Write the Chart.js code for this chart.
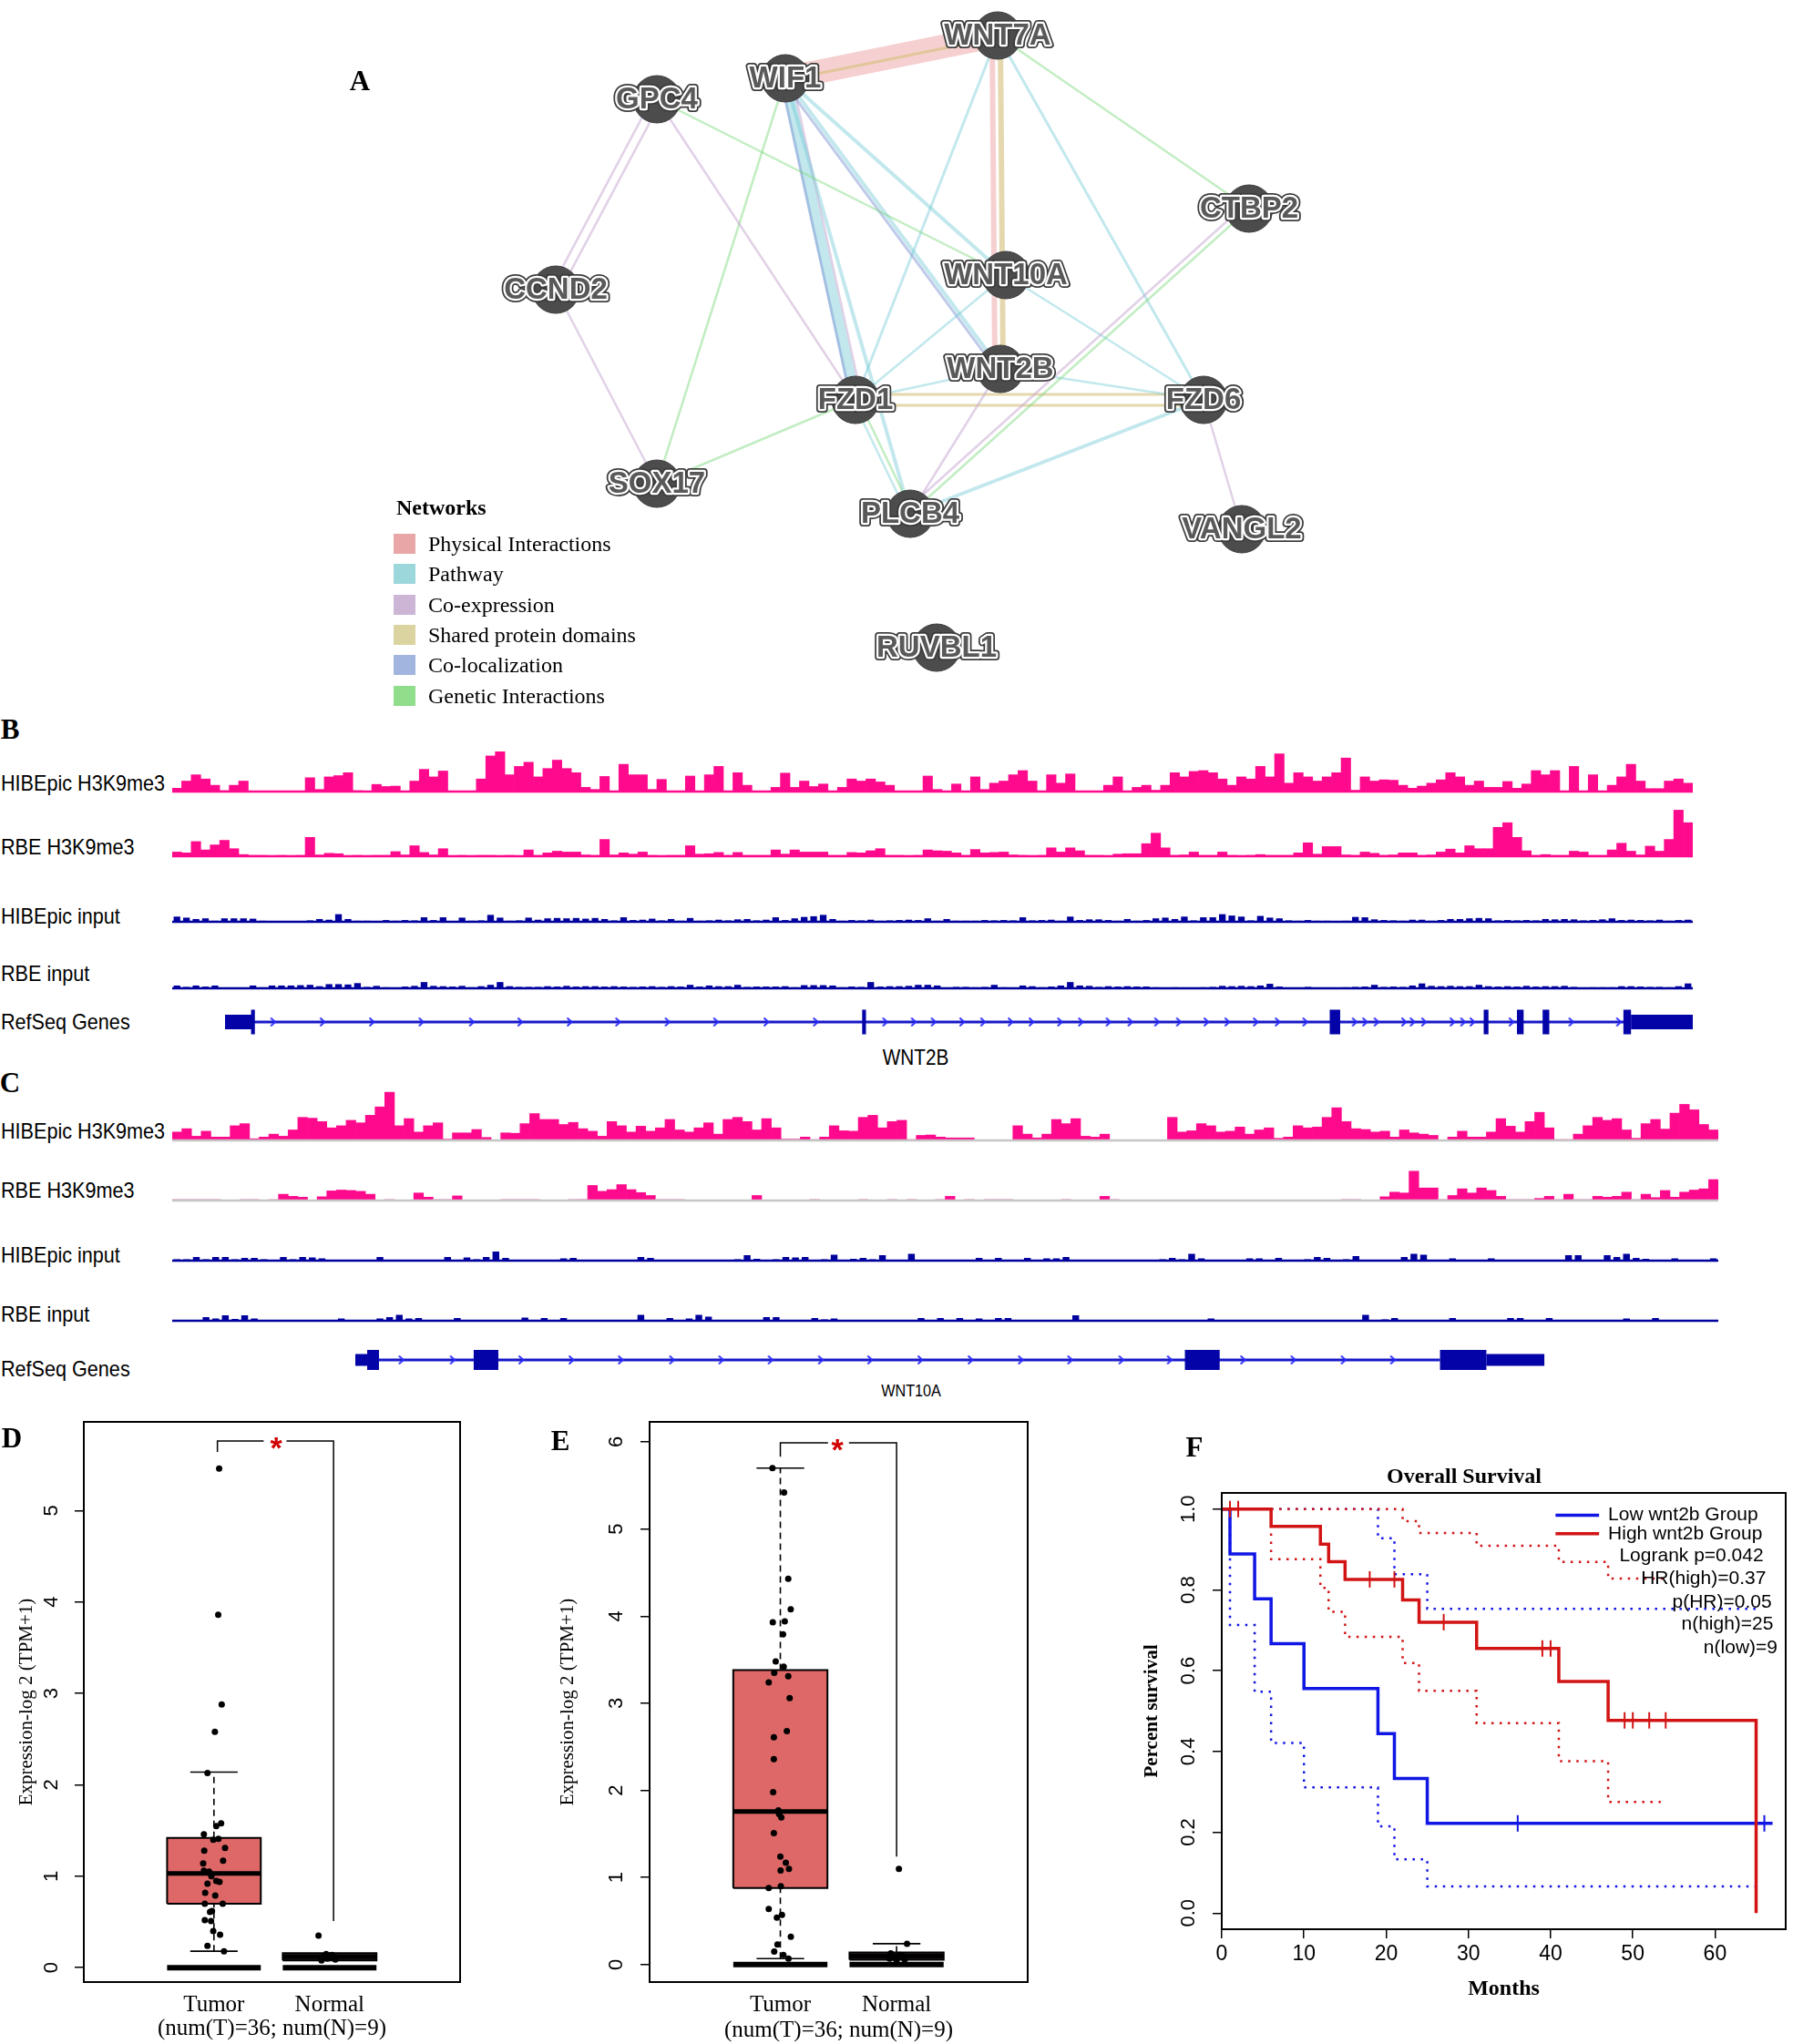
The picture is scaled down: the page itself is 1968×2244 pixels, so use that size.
<!DOCTYPE html>
<html>
<head>
<meta charset="utf-8">
<script src="https://cdn.jsdelivr.net/npm/chart.js@4.4.1/dist/chart.umd.min.js"></script>
<style>
body { margin: 0; background: #fff; }
#page { position: relative; width: 1968px; height: 2244px; overflow: hidden; background: #fff; }
#page canvas { position: absolute; }
.lbl { position: absolute; white-space: nowrap; line-height: 1; color: #000; }
</style>
</head>
<body>
<div id="page"></div>
<script>
// ---------------- data ----------------

// A: network (node layout)
var netNodes = ['WNT7A', 'WIF1', 'GPC4', 'CTBP2', 'CCND2', 'WNT10A', 'WNT2B', 'FZD1', 'FZD6', 'SOX17', 'PLCB4', 'VANGL2', 'RUVBL1'];
var netNodeX = [1095, 862, 721, 1371, 610, 1104, 1098, 939, 1321, 721, 999, 1363, 1028];
var netNodeY = [39, 86, 109, 229, 318, 302, 405, 439, 439, 531, 564, 581, 711];
// [from, to, type, weight, parallel offset]
var netEdges = [
  ['WIF1', 'WNT7A', 'P', 26, 0], ['WIF1', 'WNT7A', 'S', 3, 2],
  ['WNT7A', 'WNT2B', 'P', 6, 6], ['WNT7A', 'WNT2B', 'S', 6, -3],
  ['WNT7A', 'FZD1', 'W', 3, 0], ['WNT7A', 'FZD6', 'W', 3, 0], ['WNT7A', 'CTBP2', 'G', 2.5, 0],
  ['WIF1', 'FZD1', 'W', 12, 0], ['WIF1', 'FZD1', 'L', 3, 5], ['WIF1', 'FZD1', 'C', 2.5, -7],
  ['WIF1', 'PLCB4', 'W', 4, 0], ['WIF1', 'WNT2B', 'W', 4, 0], ['WIF1', 'WNT2B', 'L', 3, 4],
  ['WIF1', 'WNT10A', 'W', 4, 0], ['WIF1', 'SOX17', 'G', 2.5, 0],
  ['GPC4', 'CCND2', 'C', 2.5, 5], ['GPC4', 'CCND2', 'C', 2.5, -5],
  ['GPC4', 'FZD1', 'C', 2.5, 0], ['GPC4', 'WNT10A', 'G', 2.5, 0], ['CCND2', 'SOX17', 'C', 2.5, 0],
  ['SOX17', 'FZD1', 'G', 2.5, 0], ['FZD1', 'WNT10A', 'W', 2.5, 0], ['FZD1', 'WNT2B', 'W', 2.5, 0],
  ['FZD1', 'FZD6', 'S', 3, 6], ['FZD1', 'FZD6', 'S', 3, -6],
  ['WNT2B', 'FZD6', 'W', 2.5, 0], ['WNT10A', 'FZD6', 'W', 2.5, 0],
  ['FZD1', 'PLCB4', 'G', 2.5, -3], ['FZD1', 'PLCB4', 'W', 2.5, 3], ['WNT2B', 'PLCB4', 'C', 2.5, 0],
  ['CTBP2', 'PLCB4', 'G', 2.5, 0], ['CTBP2', 'PLCB4', 'C', 2.5, 6],
  ['FZD6', 'PLCB4', 'W', 4, 0], ['FZD6', 'VANGL2', 'C', 2.5, 0]
];
var netTypeKeys = ['P', 'W', 'C', 'S', 'L', 'G'];
var netTypeNames = ['Physical Interactions', 'Pathway', 'Co-expression', 'Shared protein domains', 'Co-localization', 'Genetic Interactions'];

// B / C: track names and binned signal (160 bins per track)
var trackNames = ['HIBEpic H3K9me3', 'RBE H3K9me3', 'HIBEpic input', 'RBE input', 'RefSeq Genes'];

var bHibH3 = [0.8,2.5,4,3,1.5,0.2,1.5,2.5,0,0, 0,0,0,0,3.3,0.5,3.5,3.8,4.5,0.2, 0,1.7,1.2,1.3,0,2.5,5.3,3.5,4.9,0,
  0,0,3,8.5,9.5,4,6,7,3.5,5.5, 7.5,5.5,4.5,1,0.5,3.6,0,6.5,4,4, 0.5,2.9,0,0,3.7,0,4,6,0,4.5,
  1.5,0,0,1,4.4,1,2.5,1.2,1.8,0, 1,3,2.5,3,2.3,1.5,0,0,0,3.7].concat(
  [0.5,0,1.8,0,3.5,0.5,2,2.5,4,5, 2.5,0,4,2,4.2,0,0,0,1.5,3.5, 0,1,1.5,0.3,1.5,4.5,3.5,4.8,5,4.5,
  3,1.5,3.5,3,6,3.5,9,2,4.5,3.5, 2.5,3.5,4.5,8,0.3,3.5,2.5,2.8,2.7,1.5, 0.8,1.3,2,2.8,4.5,3.5,1.5,2.5,1,1,
  2.4,0.8,1.8,5,4,5,0,6,0,4, 0,1.5,3.5,6.5,2.5,0.7,0.7,2.5,3,2]);

var bRbeH3 = [1,0.8,3.5,1.5,2.7,3.8,1.8,0.4,0.2,0.2, 0.1,0.2,0.1,0.2,4.5,0.3,0.7,0.6,0.1,0.2, 0.1,0.2,0.2,1.1,0.3,2.5,0.9,0.3,1.8,0.1,
  0.2,0.1,0.2,0.2,0.1,0.2,0.1,1.5,0.2,0.8, 1.2,1,1,0.3,0.2,4,0.3,0.8,0.5,1, 0.2,0.1,0.2,0.2,2.5,0.5,0.6,0.9,0.2,0.9,
  0.2,0.2,0.2,1.5,0.5,1.5,1,1,1,0.2, 0.2,0.9,0.8,1.3,1.8,0.2,0.2,0.1,0.2,1.5].concat(
  [1.3,1.2,0.8,0.2,1.6,0.8,0.9,1,0.3,0.2, 0.1,0.2,2,1,2,1.3,0.2,0.2,0.1,0.5, 0.6,0.6,3,5.5,2,0.2,0.3,1,0.2,0.2,
  1,0.2,0.1,0.2,0.4,0.2,0.2,0.2,0.8,3.2, 0.5,2.3,2.3,0.3,0.2,1,0.7,0.2,0.3,0.8, 0.8,0.2,0.3,1,1.7,0.8,2.5,1.8,1.8,6.9,
  8,4.5,1.3,0.2,0.4,0.2,0.2,1.2,1,0.2, 0.2,1.5,3.1,1.2,0.3,2.4,1.2,4,11,8]);

var bHibIn = [1.5,1.2,0.8,1,0.3,1,1,1,0.9,0.3, 0.1,0.1,0.1,0.2,0.4,0.8,0.6,2.2,0.8,0.3, 0.3,0.2,0.5,0.3,0.5,0.4,1.3,0.5,1.3,0.2,
  1.2,0.3,0.4,2,1.2,0.3,0.4,1.2,0.6,1, 1.1,1,1.1,0.9,1.1,0.8,0.4,1.3,0.5,0.6, 0.9,0.4,0.8,0.3,1.1,0.3,0.4,0.6,0.4,0.7,
  0.8,0.4,0.6,1.3,0.5,1,1.4,1.6,2,0.8, 0.3,0.5,0.4,0.6,0.3,0.4,0.5,0.6].concat(
  [0.5,1,0.3,0.8,0.3,0.3,0.3,0.5,0.4,0.5, 0.4,1.3,0.4,0.5,0.6,0.3,1.5,0.5,0.7,0.7, 0.5,0.3,0.8,0.3,0.5,1,1.2,0.8,1.5,0.4,
  1.3,1.3,2.2,1.8,1.5,0.4,1.7,1.2,1,0.4, 0.3,0.5,0.3,0.3,0.2,0.3,1.4,1.3,0.7,0.5, 0.4,0.3,0.6,0.6,0.3,0.5,0.8,0.8,1,1.1,
  1,0.4,0.5,0.4,0.5,0.4,0.8,0.7,0.8,0.7, 0.4,0.5,0.7,1,0.5,0.6,0.5,0.4,0.6,0.3, 0.5,0.6]);

var bRbeIn = [0.8,0.4,0.8,0.5,0.8,0.1,0.1,0.2,0.8,0.3, 0.8,0.8,0.8,0.9,1,0.6,1.2,1.2,1.1,1.5, 0.4,0.7,0.3,0.2,0.5,0.7,1.8,0.7,0.6,0.5,
  0.7,0.3,0.6,1,1.8,0.6,0.4,0.4,0.4,0.6, 0.5,0.7,0.5,0.6,0.6,0.5,0.6,0.5,0.4,0.5, 0.6,0.4,0.6,0.5,1,0.5,0.8,0.6,0.6,1,
  0.4,0.5,0.5,0.5,0.6,0.3,0.9,0.9,0.9,0.8, 0.3,0.5,0.4,1.8,0.5,0.6,0.6,0.7].concat(
  [1,1,0.8,0.2,0.4,0.4,0.3,0.4,1,0.3, 0.2,0.8,0.6,0.3,0.5,0.8,1.8,0.8,0.7,0.4, 0.6,0.5,0.6,0.5,0.5,0.3,0.2,0.3,0.2,0.2,
  0.3,0.4,0.7,0.6,0.7,0.6,0.8,1.3,0.5,0.2, 0.2,0.4,0.2,0.2,0.2,0.3,0.4,0.5,1,0.4, 0.5,0.4,0.8,1.4,0.7,0.6,0.7,0.6,0.6,1,
  0.6,0.5,0.6,0.5,0.7,0.5,0.6,0.6,0.7,0.4, 0.2,0.3,0.3,0.3,0.6,0.6,0.5,0.4,0.4,0.3, 0.6,1.4]);

var cHibH3 = [2,2.8,1,2.2,0.8,0.8,3.5,4,0.4,0.8, 1.5,1,2.5,5.5,5.3,4.5,3,3.5,4.8,4.2, 6,8,11.5,3.5,5.2,2,3.5,4.2,0.3,1.8,
  1.8,2.6,0.7,0,1.8,1.7,4,6.4,5,5, 3.8,4.3,2.8,2.2,1,4.5,3.5,2,3.4,2.2, 3,5,2.5,2,3,4.2,1.5,5,5.5,4.5,
  2.5,5.2,3,0.3,0.3,0.8,0.2,0.8,3.5,2.3, 2.2,5.5,6,3,4.5,4.8,0.2,1.2,1.3,0.8].concat(
  [0.6,0.6,0.6,0,0,0,0,3.5,1.5,0.6, 1.5,5,4,5.2,1,0.8,1.5,0,0,0, 0,0,0,5.5,2,2.3,4,3.5,2,2.2,
  3.2,1.5,2.5,3,0.5,0.8,3.5,3,3.2,5.5, 7.8,4.5,2.8,2.6,2,2.2,0.8,2.5,1.8,1.5, 1.2,0,0.8,2.2,0.8,0.8,2,5.2,3.4,2,
  4.5,6.7,3,0.2,0.2,1.5,3.5,5.5,4.8,5.2, 2.5,0.5,4,5,2.7,6.5,8.6,7.3,3.8,2.5]);

var cRbeH3 = [0.3,0.3,0.3,0.3,0.3,0,0,0.3,0.3,0, 0.3,1.5,1,0.8,0,0.9,2.3,2.5,2.4,2.2, 1.5,0,0.3,0,0,1.8,0.8,0.3,0.3,1.1,
  0,0,0,0,0.3,0.3,0.3,0.3,0,0, 0,0.3,0.35,3.6,2.2,2.6,3.8,2.6,1.9,1.2, 0.3,0.3,0.3,0,0,0,0,0,0,0,
  1.2,0,0,0,0,0,0.3,0,0,0, 0,0.3,0,0,0.3,0,0.3,0,0,0.3].concat(
  [1,0,0.3,0,0.3,0.3,0.3,0,0,0, 0,0,0.3,0,0,0,1,0.3,0,0, 0,0,0,0,0,0,0,0,0,0,
  0,0,0,0,0,0,0,0,0,0, 0,0.3,0.3,0,0,0.9,2,1.8,7,3, 3,0.3,1.2,2.8,1.8,3,2.4,1,0.3,0.3,
  0.3,0.5,1,0.3,1.5,0.3,0.3,1,0.8,1, 2,0.3,1.5,0.7,2.4,0.8,2,2.5,2.8,5]);

var cHibIn = [0.3,0.3,0.8,0.3,0.8,0.8,0.3,0.6,0.6,0.3, 0.1,0.8,0.3,0.8,0.7,0.5,0.1,0.2,0.2,0, 0.1,0.8,0.2,0.2,0.2,0,0.1,0.2,0.8,0.2,
  0.7,0.3,0.8,2,0.6,0.2,0,0.1,0.2,0.2, 0.5,0.6,0.2,0.2,0,0,0.1,0.2,0.8,0.6, 0.1,0,0.1,0.2,0.1,0.2,0.1,0.1,0.3,1.2,
  0.4,0.1,0.3,0.8,0.7,0.8,0.1,0.3,1.3,0.2, 0.4,0.6,0.3,1.2,0.1,0.2,1.5].concat(
  [0.2,0.2,0.2,0.2,0.2,0,0.6,0.1,0.6,0.2, 0.1,0.6,0.2,0.5,0.5,0.8,0.1,0.2,0.2,0.2, 0.2,0.2,0,0,0.2,0.3,0.6,0.3,1.5,0.5,
  0.1,0,0.1,0.2,0.5,0.5,0.1,0.6,0.2,0.2, 0.3,0.8,0.6,0.2,0.3,1,0.2,0.2,0.2,0.1, 0.8,1.5,1.3,0.1,0.1,0.5,0.1,0.2,0.1,0.5,
  0.1,0.2,0.2,0.1,0.2,0.2,0.1,1.2,1.2,0.2, 0.2,1.2,0.8,1.5,0.6,0.4,0.2,0.1,0.5,0.2, 0.1,0.1,0.5]);

var cRbeIn = [0.1,0.1,0.1,0.8,0.5,1.2,0.4,1.2,0.5,0.1, 0,0,0,0.1,0,0.2,0.1,0.5,0,0, 0.1,0.5,0.8,1.3,0.5,0.6,0.1,0.1,0.1,0.6,
  0.1,0,0.2,0.1,0.1,0.1,0.7,0.1,0.6,0.2, 0.6,0.1,0.2,0.1,0.1,0.2,0.1,0.2,1.3,0.2, 0.2,0.6,0.1,0.5,1.3,0.9,0.1,0.1,0.1,0.1,
  0.1,0.8,0.8,0.1,0.2,0.1,0.6,0.3,0.5,0.1, 0.1,0.2,0.2,0.1,0,0,0].concat(
  [0.6,0.2,0.6,0.1,0.6,0.1,0.5,0.1,0.6,0.6, 0,0,0,0,0,0,1.2,0.1,0.1,0.1, 0.1,0,0,0,0.1,0,0,0.1,0,0.1,
  0.5,0.1,0,0.1,0.1,0.1,0.1,0.1,0.1,0.1, 0.1,0,0.1,0.1,0,0.2,1.3,0.2,0.3,0.6, 0,0.2,0.2,0,0,0.6,0,0.1,0,0,
  0,0.6,0.6,0,0,0.6,0.1,0.1,0,0, 0,0,0,0.5,0,0,0.6,0.1,0.1,0, 0,0,0]);

// gene models, in bin units
var bGeneName = 'WNT2B';
var bUtr = [[5.56, 8.44], [153.5, 160]];
var bExon = [[8.3, 8.7], [72.6, 73.0], [121.8, 122.9], [138.0, 138.5], [141.5, 142.2], [144.2, 144.9], [152.7, 153.5]];
var bIntron = [8.44, 153.5];
var bArrows = [10.6, 15.8, 21.0, 26.2, 31.5, 36.6, 41.8, 46.9, 52.1, 57.2, 62.5, 67.7, 75.0, 78.0, 80.1, 83.1, 85.3, 88.2,
  90.4, 93.4, 95.6, 98.5, 100.8, 103.6, 105.9, 108.8, 111.0, 114.0, 116.3, 119.2, 124.4, 125.5, 126.7, 129.6, 130.5,
  131.7, 134.7, 135.8, 136.8, 140.9, 147.2, 152.2];
var cGeneName = 'WNT10A';
var cUtr = [[18.95, 20.18], [136.0, 142.0]];
var cExon = [[20.18, 21.4], [31.2, 33.75], [104.8, 108.4], [131.2, 136.0]];
var cIntron = [21.4, 131.2];
var cArrows = [23.7, 29.0, 36.1, 41.3, 46.4, 51.7, 56.8, 61.9, 67.1, 72.2, 77.4, 82.6, 87.8, 92.9, 98.2, 103.2, 110.8, 116.0, 121.2, 126.3];

// D / E: boxplots. stats = [low whisker, q1, median, q3, high whisker]
var boxGroups = ['Tumor', 'Normal'];
var boxSubtitle = '(num(T)=36; num(N)=9)';
var boxYTitle = 'Expression-log 2 (TPM+1)';
var dTicks = [0, 1, 2, 3, 4, 5];
var dStats = [[0.18, 0.70, 1.03, 1.42, 2.14], [0.08, 0.08, 0.12, 0.16, 0.16]];
var dTumorY = [5.46,3.86,2.88,2.58,2.13,1.58,1.55,1.46,1.41,1.40,1.31,1.28,1.17,1.14,1.06,1.05,1.02,1.00,0.95,0.94,0.92,0.82,0.79,0.70,0.70,0.62,0.61,0.52,0.51,0.40,0.36,0.24,0.18];
var dTumorJit = [0.045,0.037,0.067,0.008,-0.056,0.062,0.02,-0.087,0.039,-0.006,0.096,-0.084,0.079,-0.093,-0.087,-0.042,-0.025,-0.022,0.02,0.048,-0.056,-0.076,0.011,-0.079,0.076,-0.017,-0.034,-0.079,-0.025,-0.006,0.053,-0.056,0.087];
var dNormalY = [0.35, 0.15, 0.14, 0.13, 0.12, 0.11, 0.10, 0.09, 0.08];
var dNormalJit = [-0.096, -0.03, 0.02, -0.05, 0.0, 0.03, -0.02, 0.05, -0.07];
var dBracket = [1.03, 2.034, 5.64, 5.76, 0.51]; // x left, x right, left foot, top, right foot
var dBracketGap = [1.43, 1.627];

var eTicks = [0, 1, 2, 3, 4, 5, 6];
var eStats = [[0.07, 0.88, 1.757, 3.38, 5.70], [0.056, 0.056, 0.097, 0.14, 0.24]];
var eTumorY = [5.70,5.42,4.43,4.08,3.93,3.94,3.79,3.48,3.42,3.35,3.31,3.24,3.06,2.68,2.61,2.36,1.98,1.77,1.73,1.69,1.51,1.24,1.17,1.10,1.08,0.90,0.88,0.64,0.57,0.54,0.32,0.23,0.15,0.11,0.07];
var eTumorJit = [-0.068,0.032,0.068,0.089,-0.065,0.038,0.023,-0.04,0.029,-0.053,0.068,-0.1,0.08,0.056,-0.056,-0.056,-0.062,-0.017,-0.011,0.008,-0.056,0,0.047,0.074,0.002,0.004,-0.1,-0.1,0.014,-0.03,0.09,-0.025,-0.053,0.026,0.07];
var eNormalY = [1.10, 0.24, 0.13, 0.11, 0.10, 0.08, 0.07, 0.06, 0.05];
var eNormalJit = [0.02, 0.09, -0.05, 0.03, 0.05, -0.02, -0.06, 0.07, 0.0];
var eBracket = [1.0, 2.0, 5.83, 5.99, 1.24];
var eBracketGap = [1.41, 1.59];

// F: Kaplan-Meier
var kmXTicks = [0, 10, 20, 30, 40, 50, 60];
var kmYTicks = [0, 0.2, 0.4, 0.6, 0.8, 1.0];
var kmLowT = [0, 1, 4, 6, 10, 19, 21, 25, 67];
var kmLowS = [1, 0.889, 0.778, 0.667, 0.556, 0.444, 0.333, 0.222, 0.222];
var kmHighT = [0, 6, 12, 13, 15, 22, 24, 31, 41, 47, 65];
var kmHighS = [1, 0.957, 0.913, 0.870, 0.826, 0.775, 0.720, 0.655, 0.573, 0.477, 0];
var kmLowCens = [36, 66];
var kmHighCens = [1, 2, 18, 21, 27, 39, 40, 49, 50, 52, 54];
var ciLowUpT = [0, 19, 21, 25, 65.5];
var ciLowUpS = [1, 0.928, 0.839, 0.753, 0.753];
var ciLowLoT = [0, 1, 4, 6, 10, 19, 21, 25, 65.5];
var ciLowLoS = [1, 0.713, 0.548, 0.421, 0.311, 0.215, 0.133, 0.066, 0.066];
var ciHighUpT = [0, 22, 24, 31, 41, 47, 54];
var ciHighUpS = [1, 0.97, 0.941, 0.909, 0.869, 0.828, 0.828];
var ciHighLoT = [0, 6, 12, 13, 15, 22, 24, 31, 41, 47, 53.4];
var ciHighLoS = [1, 0.876, 0.805, 0.746, 0.684, 0.619, 0.55, 0.47, 0.376, 0.275, 0.275];
var kmGroups = ['Low wnt2b Group', 'High wnt2b Group'];
var kmStatsText = ['Logrank p=0.042', 'HR(high)=0.37', 'p(HR)=0.05', 'n(high)=25', 'n(low)=9'];

// ---------------- styles ----------------
var SERIF = '"Liberation Serif", "Times New Roman", serif';
var SANS = '"Liberation Sans", Arial, sans-serif';
var PINK = '#ff0a8c', PALE_PINK = '#e9a3cd', GRAY_BASE = '#c6c6c6', NAVY = '#00009c';
var EXON = '#0303a8', INTRON = '#1818c8', ARROW = '#2b2bff';
var BLUE = '#1016e4', RED = '#d21414', BOX_FILL = ['#de6767', '#3a2a2a'];
var netColors = { P: 'rgba(236,150,150,0.45)', W: 'rgba(110,200,212,0.42)', C: 'rgba(196,164,208,0.5)',
  S: 'rgba(212,190,120,0.6)', L: 'rgba(128,150,214,0.5)', G: 'rgba(120,214,120,0.45)' };
var netSwatch = ['#e9a6a6', '#9cd7dc', '#cdb5d6', '#dcd4a0', '#a2b5de', '#90dd8b'];

Chart.defaults.font.family = SANS;
Chart.defaults.color = '#000';
Chart.defaults.layout.autoPadding = false;

var page = document.getElementById('page');

function makeCanvas(x, y, w, h) {
  var c = document.createElement('canvas');
  c.width = w; c.height = h;
  c.style.left = x + 'px'; c.style.top = y + 'px';
  c.style.width = w + 'px'; c.style.height = h + 'px';
  page.appendChild(c);
  return c;
}

function addText(txt, x, y, css, center, extra) {
  var d = document.createElement('div');
  d.className = 'lbl';
  d.textContent = txt;
  d.style.cssText += css;
  d.style.left = x + 'px';
  d.style.top = y + 'px';
  d.style.transformOrigin = center ? '50% 50%' : '0 50%';
  d.style.transform = (center ? 'translate(-50%,-50%)' : 'translateY(-50%)') + (extra || '');
  page.appendChild(d);
  return d;
}

// Chart.js paints dataset 0 last; make later datasets paint on top instead
function paintInOrder(ds) {
  ds.forEach(function (d, i) { d.order = ds.length - i; });
  return ds;
}

function baseOpts() {
  return { responsive: false, animation: false, devicePixelRatio: 1, events: [],
    plugins: { legend: { display: false }, tooltip: { enabled: false } } };
}

// ---------------- plugins ----------------
function baselinePlugin(color, width) {
  return { id: 'baseline', afterDatasetsDraw: function (chart) {
    var a = chart.chartArea, ctx = chart.ctx;
    ctx.save(); ctx.fillStyle = color;
    ctx.fillRect(a.left, a.bottom - width / 2, a.right - a.left, width);
    ctx.restore();
  } };
}

var framePlugin = { id: 'frame', afterDraw: function (chart) {
  var a = chart.chartArea, ctx = chart.ctx;
  ctx.save(); ctx.strokeStyle = '#000'; ctx.lineWidth = 2;
  ctx.strokeRect(a.left, a.top, a.right - a.left, a.bottom - a.top);
  ctx.restore();
} };

function rotTicksPlugin(offset, font, fmt) {
  return { id: 'rotTicks', afterDraw: function (chart) {
    var s = chart.scales.y, ctx = chart.ctx;
    ctx.save(); ctx.font = font; ctx.fillStyle = '#000';
    ctx.textAlign = 'center'; ctx.textBaseline = 'middle';
    s.ticks.forEach(function (t) {
      ctx.save();
      ctx.translate(chart.chartArea.left - offset, s.getPixelForValue(t.value));
      ctx.rotate(-Math.PI / 2);
      ctx.fillText(fmt ? fmt(t.value) : String(t.value), 0, 0);
      ctx.restore();
    });
    ctx.restore();
  } };
}

function notesPlugin(items, segs) {
  return { id: 'notes', afterDatasetsDraw: function (chart) {
    var ctx = chart.ctx, xs = chart.scales.x, ys = chart.scales.y;
    ctx.save();
    (segs || []).forEach(function (s) {
      ctx.strokeStyle = s.color; ctx.lineWidth = s.width;
      ctx.beginPath();
      ctx.moveTo(xs.getPixelForValue(s.x1), ys.getPixelForValue(s.y));
      ctx.lineTo(xs.getPixelForValue(s.x2), ys.getPixelForValue(s.y));
      ctx.stroke();
    });
    items.forEach(function (it) {
      ctx.font = it.font; ctx.fillStyle = it.color || '#000';
      ctx.textAlign = it.align || 'left'; ctx.textBaseline = it.baseline || 'middle';
      var x = it.px != null ? it.px : xs.getPixelForValue(it.x);
      var y = it.py != null ? it.py : ys.getPixelForValue(it.y);
      ctx.fillText(it.t, x, y + (it.dy || 0));
    });
    ctx.restore();
  } };
}

// ---------------- A: network ----------------
(function () {
  var c = makeCanvas(370, 0, 1090, 800);
  function node(name) { var i = netNodes.indexOf(name); return [netNodeX[i], netNodeY[i]]; }
  var ds = netEdges.map(function (e) {
    var a = node(e[0]), b = node(e[1]);
    var dx = b[0] - a[0], dy = b[1] - a[1], len = Math.sqrt(dx * dx + dy * dy);
    var ox = -dy / len * e[4], oy = dx / len * e[4];
    return { data: [{ x: a[0] + ox, y: a[1] + oy }, { x: b[0] + ox, y: b[1] + oy }], showLine: true,
      borderColor: netColors[e[2]], borderWidth: e[3], pointRadius: 0, borderCapStyle: 'butt' };
  });
  ds.push({ data: netNodes.map(function (n, i) { return { x: netNodeX[i], y: netNodeY[i] }; }),
    pointRadius: 26, pointBackgroundColor: '#4c4c4c', pointBorderColor: '#3c3c3c', pointBorderWidth: 1 });
  var labels = { id: 'nodeLabels', afterDatasetsDraw: function (chart) {
    var ctx = chart.ctx, xs = chart.scales.x, ys = chart.scales.y;
    ctx.save();
    ctx.font = 'bold 33px ' + SANS; ctx.textAlign = 'center'; ctx.textBaseline = 'middle'; ctx.lineJoin = 'round';
    netNodes.forEach(function (n, i) {
      var x = xs.getPixelForValue(netNodeX[i]), y = ys.getPixelForValue(netNodeY[i]) + 1;
      ctx.lineWidth = 8; ctx.strokeStyle = '#3a3a3a'; ctx.strokeText(n, x, y);
      ctx.lineWidth = 4.5; ctx.strokeStyle = '#ffffff'; ctx.strokeText(n, x, y);
      ctx.fillStyle = '#595959'; ctx.fillText(n, x, y);
    });
    ctx.restore();
  } };
  var o = baseOpts();
  o.layout = { padding: 0, autoPadding: false };
  o.scales = { x: { type: 'linear', display: false, min: 370, max: 1460 },
               y: { type: 'linear', display: false, min: 0, max: 800, reverse: true } };
  new Chart(c, { type: 'scatter', data: { datasets: paintInOrder(ds) }, options: o, plugins: [labels] });

  addText('Networks', 435, 557, 'font:bold 24px ' + SERIF + ';');
  var ys = [597, 630, 664, 697, 730, 764];
  netTypeNames.forEach(function (n, i) {
    var sw = document.createElement('div');
    sw.style.cssText = 'position:absolute;left:432px;top:' + (ys[i] - 11) + 'px;width:24px;height:22px;background:' + netSwatch[i] + ';';
    page.appendChild(sw);
    addText(n, 470, ys[i], 'font:24px ' + SERIF + ';');
  });
})();

// ---------------- B / C: tracks ----------------
function trackChart(x, baseline, w, h, values, unit, color, baseColor, pale, barPct) {
  var c = makeCanvas(x, baseline - h, w, h + 3);
  var o = baseOpts();
  o.layout = { padding: { top: 0, bottom: 3, left: 0, right: 0 }, autoPadding: false };
  o.scales = { x: { display: false }, y: { display: false, min: 0, max: h / unit } };
  new Chart(c, {
    type: 'bar',
    data: { labels: values.map(function (v, i) { return i; }),
      datasets: [{ data: values, borderWidth: 0, categoryPercentage: 1, barPercentage: barPct || 1,
        backgroundColor: pale ? function (ctx) { return ctx.raw <= 0.35 ? pale : color; } : color }] },
    options: o,
    plugins: [baselinePlugin(baseColor, 2.5)]
  });
}

function chevron(color) {
  var c = document.createElement('canvas');
  c.width = 8; c.height = 12;
  var g = c.getContext('2d');
  g.strokeStyle = color; g.lineWidth = 1.8;
  g.beginPath(); g.moveTo(1.5, 1.5); g.lineTo(6.5, 6); g.lineTo(1.5, 10.5); g.stroke();
  return c;
}

function geneChart(x, cy, w, h, utr, exon, intron, arrows, exonH, utrH) {
  var c = makeCanvas(x, cy - h / 2, w, h);
  function segs(list) {
    var d = [];
    list.forEach(function (s) { d.push({ x: s[0], y: 0 }, { x: s[1], y: 0 }, { x: s[1], y: null }); });
    return d;
  }
  var o = baseOpts();
  o.layout = { padding: 0, autoPadding: false };
  o.scales = { x: { type: 'linear', display: false, min: 0, max: 160 }, y: { type: 'linear', display: false, min: -1, max: 1 } };
  new Chart(c, { type: 'scatter', data: { datasets: paintInOrder([
    { data: [{ x: intron[0], y: 0 }, { x: intron[1], y: 0 }], showLine: true, borderColor: INTRON, borderWidth: 3, pointRadius: 0 },
    { data: arrows.map(function (a) { return { x: a, y: 0 }; }), pointStyle: chevron(ARROW), pointRadius: 5 },
    { data: segs(utr), showLine: true, borderColor: EXON, borderWidth: utrH, borderCapStyle: 'butt', pointRadius: 0 },
    { data: segs(exon), showLine: true, borderColor: EXON, borderWidth: exonH, borderCapStyle: 'butt', pointRadius: 0 }
  ]) }, options: o });
}

var UNIT = 4.6;
trackChart(189, 869, 1669, 50, bHibH3, UNIT, PINK, PINK);
trackChart(189, 940, 1669, 62, bRbeH3, UNIT, PINK, PINK);
trackChart(189, 1012, 1669, 20, bHibIn, 3.8, NAVY, NAVY, null, 0.7);
trackChart(189, 1085, 1669, 20, bRbeIn, 3.8, NAVY, NAVY, null, 0.7);
geneChart(189, 1122, 1669, 44, bUtr, bExon, bIntron, bArrows, 27, 16);

trackChart(189, 1252, 1697, 56, cHibH3, UNIT, PINK, GRAY_BASE);
trackChart(189, 1318, 1697, 40, cRbeH3, UNIT, PINK, GRAY_BASE, PALE_PINK);
trackChart(189, 1384, 1697, 20, cHibIn, 5, NAVY, NAVY, null, 0.7);
trackChart(189, 1450, 1697, 20, cRbeIn, 5, NAVY, NAVY, null, 0.7);
geneChart(189, 1493, 1697, 40, cUtr, cExon, cIntron, cArrows, 22, 13);

var trkCss = 'font:24px ' + SANS + ';';
[860, 930, 1006, 1069, 1122].forEach(function (y, i) { addText(trackNames[i], 1, y, trkCss, false, ' scaleX(0.9)'); });
[1242, 1307, 1378, 1443, 1503].forEach(function (y, i) { addText(trackNames[i], 1, y, trkCss, false, ' scaleX(0.9)'); });
addText(bGeneName, 1005, 1161, 'font:23px ' + SANS + ';', true, ' scaleX(0.9)');
addText(cGeneName, 1000, 1527, 'font:18px ' + SANS + ';', true, ' scaleX(0.9)');

// ---------------- D / E: boxplots ----------------
var BOX_HW = 0.405, CAP_HW = 0.205;
function boxPanel(p) {
  var c = makeCanvas(p.left, p.top, p.width, p.height);
  var ds = [];
  var ptsY = [p.tumorY, p.normalY], ptsJ = [p.tumorJit, p.normalJit];
  p.stats.forEach(function (s, g) {
    var cx = g + 1;
    var line = function (pts, w, dash) {
      ds.push({ data: pts, borderColor: '#000', borderWidth: w, borderDash: dash || [], pointRadius: 0, borderCapStyle: 'butt' });
    };
    if (s[4] > s[3]) {
      line([{ x: cx, y: s[3] }, { x: cx, y: s[4] }], 1.6, [7, 5]);
      line([{ x: cx - CAP_HW, y: s[4] }, { x: cx + CAP_HW, y: s[4] }], 1.6);
    }
    if (s[0] < s[1]) {
      line([{ x: cx, y: s[0] }, { x: cx, y: s[1] }], 1.6, [7, 5]);
      line([{ x: cx - CAP_HW, y: s[0] }, { x: cx + CAP_HW, y: s[0] }], 1.6);
    }
    ds.push({ data: [{ x: cx - BOX_HW, y: s[1] }, { x: cx + BOX_HW, y: s[1] }, { x: cx + BOX_HW, y: s[3] },
      { x: cx - BOX_HW, y: s[3] }, { x: cx - BOX_HW, y: s[1] }],
      borderColor: '#000', borderWidth: 2, backgroundColor: BOX_FILL[g], fill: 'shape', pointRadius: 0 });
    line([{ x: cx - BOX_HW, y: s[2] }, { x: cx + BOX_HW, y: s[2] }], 5);
    line([{ x: cx - BOX_HW, y: 0 }, { x: cx + BOX_HW, y: 0 }], 6);
  });
  [0, 1].forEach(function (g) {
    ds.push({ data: ptsY[g].map(function (v, i) { return { x: g + 1 + ptsJ[g][i], y: v }; }),
      showLine: false, pointRadius: 3.5, pointBackgroundColor: '#000', pointBorderWidth: 0 });
  });
  var b = p.bracket, gap = p.gap;
  ds.push({ data: [{ x: b[0], y: b[2] }, { x: b[0], y: b[3] }, { x: gap[0], y: b[3] }],
    borderColor: '#000', borderWidth: 1.5, pointRadius: 0 });
  ds.push({ data: [{ x: gap[1], y: b[3] }, { x: b[1], y: b[3] }, { x: b[1], y: b[4] }],
    borderColor: '#000', borderWidth: 1.5, pointRadius: 0 });

  var o = baseOpts();
  o.layout = { padding: { left: 0, right: p.padRight, top: p.padTop, bottom: 0 }, autoPadding: false };
  o.scales = {
    x: { type: 'linear', min: -0.125, max: 3.128,
      afterFit: function (s) { s.height = p.xAxisH; },
      afterBuildTicks: function (s) { s.ticks = [{ value: 1 }, { value: 2 }]; },
      ticks: { callback: function (v) { return boxGroups[v - 1]; }, font: { family: SERIF, size: 25 }, color: '#000',
        padding: 10, maxRotation: 0, autoSkip: false },
      grid: { display: false, drawTicks: false }, border: { display: false },
      title: { display: true, text: boxSubtitle, font: { family: SERIF, size: 25 }, color: '#000', padding: { top: 0, bottom: p.subPad } } },
    y: { type: 'linear', min: p.yMin, max: p.yMax,
      afterFit: function (s) { s.width = p.yAxisW; },
      afterBuildTicks: function (s) { s.ticks = p.yTicks.map(function (v) { return { value: v }; }); },
      ticks: { display: false },
      grid: { display: true, drawOnChartArea: false, drawTicks: true, tickLength: 10, color: '#000', lineWidth: 1.5 },
      border: { display: false },
      title: { display: true, text: boxYTitle, font: { family: SERIF, size: 21 }, color: '#000', padding: { top: p.yTitlePad, bottom: 0 } } }
  };
  o.elements = { line: { tension: 0 } };
  new Chart(c, { type: 'line', data: { datasets: paintInOrder(ds) }, options: o, plugins: [
    framePlugin, rotTicksPlugin(p.tickOffset, '22px ' + SANS),
    notesPlugin([{ t: '*', x: p.star[0], y: p.star[1], font: 'bold 34px ' + SANS, color: '#d00000', align: 'center', baseline: 'alphabetic', dy: 19 }])
  ] });
}

boxPanel({ left: 0, top: 1540, width: 530, height: 704, padRight: 25, padTop: 21, yAxisW: 92, xAxisH: 68,
  yMin: -0.157, yMax: 5.97, yTicks: dTicks, yTitlePad: 16.4, subPad: 2, tickOffset: 35,
  stats: dStats, tumorY: dTumorY, tumorJit: dTumorJit, normalY: dNormalY, normalJit: dNormalJit,
  bracket: dBracket, gap: dBracketGap, star: [1.537, dBracket[3]] });

boxPanel({ left: 580, top: 1540, width: 580, height: 704, padRight: 32, padTop: 21, yAxisW: 133, xAxisH: 68,
  yMin: -0.2, yMax: 6.23, yTicks: eTicks, yTitlePad: 30.4, subPad: 0, tickOffset: 36,
  stats: eStats, tumorY: eTumorY, tumorJit: eTumorJit, normalY: eNormalY, normalJit: eNormalJit,
  bracket: eBracket, gap: eBracketGap, star: [1.49, eBracket[3]] });

// ---------------- F: survival ----------------
(function () {
  var c = makeCanvas(1240, 1550, 728, 694);
  function pts(t, s) { return t.map(function (v, i) { return { x: v, y: s[i] }; }); }
  function survAt(t, s, x) { var v = s[0]; for (var i = 0; i < t.length; i++) { if (t[i] <= x) v = s[i]; } return v; }
  function step(data, color, w, dash) {
    return { data: data, borderColor: color, borderWidth: w, borderDash: dash || [], stepped: 'before', pointRadius: 0, fill: false };
  }
  var dot = [2.5, 6.5];
  var ds = [
    step(pts(ciLowUpT, ciLowUpS), BLUE, 2.5, dot),
    step(pts(ciLowLoT, ciLowLoS), BLUE, 2.5, dot),
    step(pts(ciHighUpT, ciHighUpS), RED, 2.5, dot),
    step(pts(ciHighLoT, ciHighLoS), RED, 2.5, dot),
    step(pts(kmLowT, kmLowS), BLUE, 3.5),
    step(pts(kmHighT, kmHighS), RED, 3.5),
    { data: kmLowCens.map(function (t) { return { x: t, y: survAt(kmLowT, kmLowS, t) }; }), showLine: false,
      pointStyle: 'line', rotation: 90, pointRadius: 9, pointBorderColor: BLUE, pointBorderWidth: 2 },
    { data: kmHighCens.map(function (t) { return { x: t, y: survAt(kmHighT, kmHighS, t) }; }), showLine: false,
      pointStyle: 'line', rotation: 90, pointRadius: 9, pointBorderColor: RED, pointBorderWidth: 2 }
  ];
  var legFont = '21px ' + SANS;
  var items = [
    { t: 'Overall Survival', px: 367, py: 72, font: 'bold 24px ' + SERIF, align: 'center' },
    { t: kmGroups[0], x: 47.0, y: 0.985, font: legFont },
    { t: kmGroups[1], x: 47.0, y: 0.939, font: legFont }
  ];
  var statX = [65.9, 66.2, 66.9, 67.1, 67.6], statY = [0.883, 0.827, 0.770, 0.714, 0.656];
  kmStatsText.forEach(function (t, i) { items.push({ t: t, x: statX[i], y: statY[i], font: legFont, align: 'right' }); });
  var segs = [{ x1: 40.6, x2: 45.9, y: 0.985, color: BLUE, width: 3.5 }, { x1: 40.6, x2: 45.9, y: 0.939, color: RED, width: 3.5 }];

  var o = baseOpts();
  o.layout = { padding: { left: 0, right: 8, top: 89, bottom: 0 }, autoPadding: false };
  o.scales = {
    x: { type: 'linear', min: 0, max: 68.6,
      afterFit: function (s) { s.height = 126; },
      afterBuildTicks: function (s) { s.ticks = kmXTicks.map(function (v) { return { value: v }; }); },
      ticks: { font: { family: SANS, size: 23 }, color: '#000', padding: 4, maxRotation: 0, autoSkip: false },
      grid: { display: true, drawOnChartArea: false, drawTicks: true, tickLength: 10, color: '#000', lineWidth: 1.5 },
      border: { display: false },
      title: { display: true, text: 'Months', font: { family: SERIF, size: 24, weight: 'bold' }, color: '#000', padding: { top: 0, bottom: 45.6 } } },
    y: { type: 'linear', min: -0.04, max: 1.04,
      afterFit: function (s) { s.width = 101; },
      afterBuildTicks: function (s) { s.ticks = kmYTicks.map(function (v) { return { value: v }; }); },
      ticks: { display: false },
      grid: { display: true, drawOnChartArea: false, drawTicks: true, tickLength: 10, color: '#000', lineWidth: 1.5 },
      border: { display: false },
      title: { display: true, text: 'Percent survival', font: { family: SERIF, size: 21, weight: 'bold' }, color: '#000', padding: { top: 12.4, bottom: 0 } } }
  };
  o.elements = { line: { tension: 0 } };
  new Chart(c, { type: 'line', data: { datasets: paintInOrder(ds) }, options: o, plugins: [
    framePlugin, rotTicksPlugin(36, '22px ' + SANS, function (v) { return v.toFixed(1); }), notesPlugin(items, segs)
  ] });
})();

// ---------------- panel letters ----------------
var letterCss = 'font:bold 31px ' + SERIF + ';';
addText('A', 395, 89, letterCss, true);
addText('B', 11, 801, letterCss, true);
addText('C', 11, 1189, letterCss, true);
addText('D', 13, 1579, letterCss, true);
addText('E', 615, 1582, letterCss, true);
addText('F', 1311, 1589, letterCss, true);
</script>
</body>
</html>
